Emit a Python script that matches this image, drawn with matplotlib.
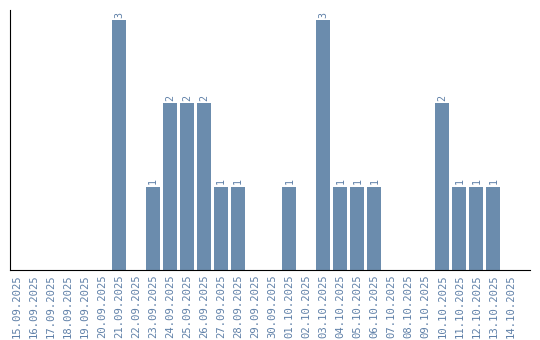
import numpy as np
import matplotlib.pyplot as plt

dates = ["15.09.2025", "16.09.2025", "17.09.2025", "18.09.2025", "19.09.2025",
         "20.09.2025", "21.09.2025", "22.09.2025", "23.09.2025", "24.09.2025",
         "25.09.2025", "26.09.2025", "27.09.2025", "28.09.2025", "29.09.2025",
         "30.09.2025", "01.10.2025", "02.10.2025", "03.10.2025", "04.10.2025",
         "05.10.2025", "06.10.2025", "07.10.2025", "08.10.2025", "09.10.2025",
         "10.10.2025", "11.10.2025", "12.10.2025", "13.10.2025", "14.10.2025"]
counts = [0, 0, 0, 0, 0, 0, 3, 0, 1, 2, 2, 2, 1, 1, 0,
          0, 1, 0, 3, 1, 1, 1, 0, 0, 0, 2, 1, 1, 1, 0]

bar_color = "#6b8cad"
text_color = "#5f80a8"

fig = plt.figure(figsize=(5.4, 3.4), dpi=100)
ax = fig.add_axes([10 / 540, 1 - 270 / 340, 520 / 540, 260 / 340])

x = np.arange(len(dates))
ax.bar(x, counts, width=0.82, color=bar_color)

for xi, c in zip(x, counts):
    if c > 0:
        ax.text(xi, c + 0.03, str(c), rotation=90, ha="center", va="bottom",
                fontsize=7.2, family="DejaVu Sans Mono", color=text_color)

ax.set_xlim(-0.42, 30.15)
ax.set_ylim(0, 3.12)
ax.set_xticks(x)
ax.set_xticklabels(dates, rotation=90, fontsize=7.6, family="DejaVu Sans Mono",
                   color=text_color)
ax.tick_params(axis="x", length=0, pad=3)
ax.set_yticks([])
ax.spines["top"].set_visible(False)
ax.spines["right"].set_visible(False)

fig.savefig("out.png", dpi=100)
